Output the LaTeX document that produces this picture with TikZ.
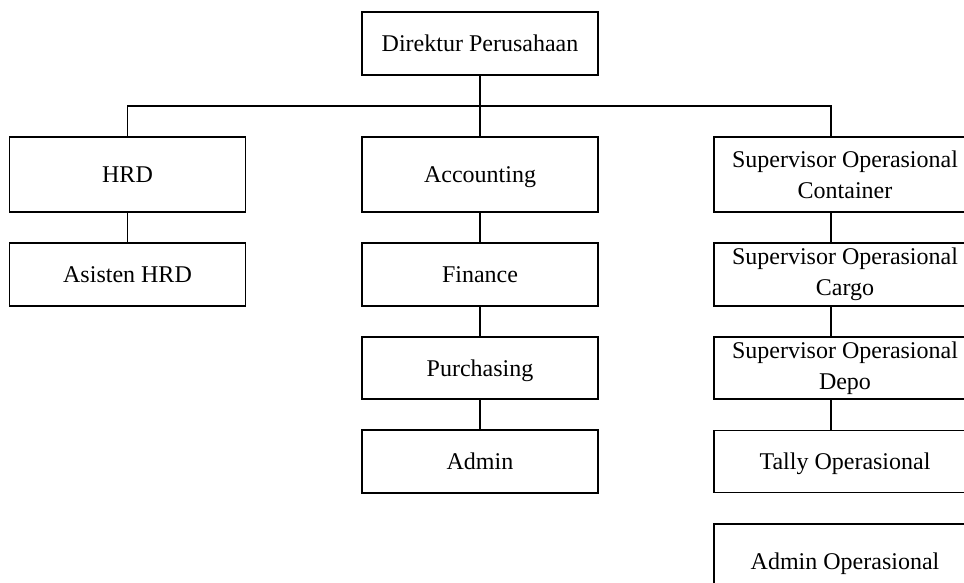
\documentclass[tikz,border=0pt]{standalone}
\usepackage{fontspec}
\setmainfont{Liberation Serif}
\begin{document}
\begin{tikzpicture}[x=1pt,y=-1pt,
    every node/.style={font=\fontsize{24}{31}\selectfont},
    unit/.style={draw,line width=1.2pt,minimum width=236pt,inner sep=0pt,align=center},
    oneline/.style={text height=21pt,text depth=5pt},
    opsunit/.style={unit,minimum width=262pt},
    link/.style={line width=1.2pt},
  ]
  \useasboundingbox (0,0) rectangle (964,583);
  % pimpinan
  \node[unit,oneline,minimum height=63pt] (dir) at (480,43.5) {Direktur Perusahaan};
  % kolom kiri
  \node[unit,oneline,minimum height=75pt] (hrd) at (127.5,174.5) {HRD};
  \node[unit,oneline,minimum height=63pt] (ahrd) at (127.5,274.5) {Asisten HRD};
  % kolom tengah
  \node[unit,oneline,minimum height=75pt] (acc) at (480,174.5) {Accounting};
  \node[unit,oneline,minimum height=63pt] (fin) at (480,274.5) {Finance};
  \node[unit,oneline,minimum height=62pt] (pur) at (480,368) {Purchasing};
  \node[unit,oneline,minimum height=63pt] (adm) at (480,461.5) {Admin};
  % kolom kanan
  \node[opsunit,minimum height=75pt] (spcon) at (845,174.5) {Supervisor Operasional\\Container};
  \node[opsunit,minimum height=63pt] (spcar) at (845,274.5) {Supervisor Operasional\\Cargo};
  \node[opsunit,minimum height=62pt] (spdep) at (845,368) {Supervisor Operasional\\Depo};
  \node[opsunit,oneline,minimum height=62pt] (tally) at (845,461.5) {Tally Operasional};
  \node[opsunit,oneline,minimum height=75pt] (admop) at (845,561.5) {Admin Operasional};
  % garis
  \coordinate (bus) at (480,106);
  \draw[link] (dir.south) -- (acc.north);
  \draw[link] (hrd.north) |- (bus) -| ([xshift=-14pt]spcon.north);
  \draw[link] (hrd) -- (ahrd);
  \draw[link] (acc) -- (fin);
  \draw[link] (fin) -- (pur);
  \draw[link] (pur) -- (adm);
  \draw[link] ([xshift=-14pt]spcon.south) -- ([xshift=-14pt]spcar.north);
  \draw[link] ([xshift=-14pt]spcar.south) -- ([xshift=-14pt]spdep.north);
  \draw[link] ([xshift=-14pt]spdep.south) -- ([xshift=-14pt]tally.north);
\end{tikzpicture}
\end{document}
